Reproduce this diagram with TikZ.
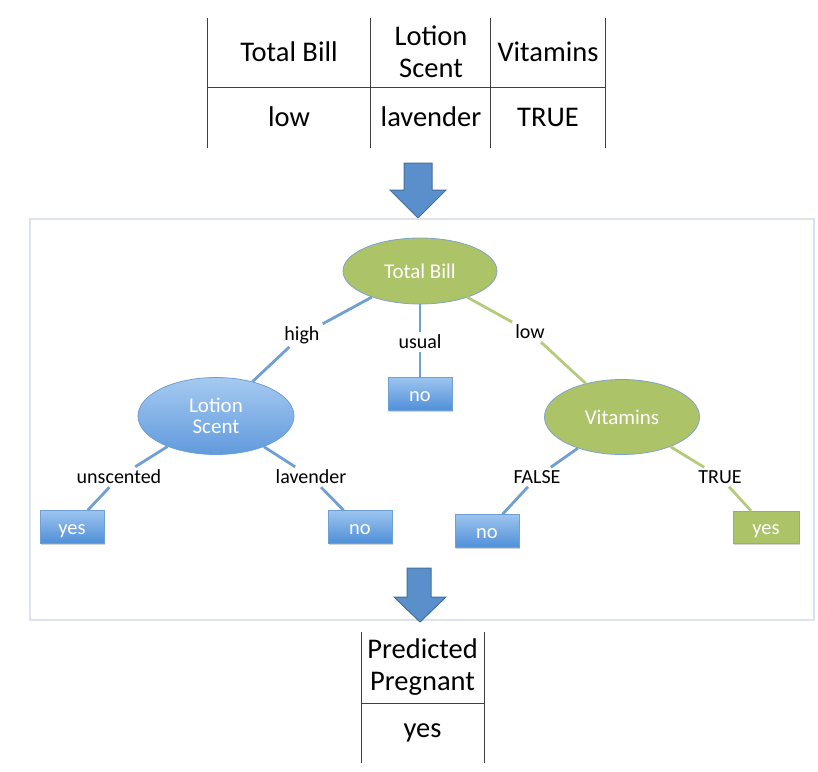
\documentclass[tikz,border=0pt]{standalone}
\usepackage{fontspec}
\setmainfont{Carlito}
\usetikzlibrary{shapes.geometric,shadows}
\definecolor{lineblue}{HTML}{6F9FD3}
\definecolor{linegreen}{HTML}{B5CB7C}
\definecolor{greenfill}{HTML}{ACC368}
\definecolor{ellborder}{HTML}{7FA3C8}
\definecolor{boxtop}{HTML}{9CC4EF}
\definecolor{boxbot}{HTML}{4F8FD8}
\definecolor{arrowfill}{HTML}{5B8FCB}
\definecolor{arrowdraw}{HTML}{41719C}
\definecolor{framecol}{HTML}{DDE3E9}
\tikzset{
  tabtxt/.style={font=\fontsize{28.5}{32}\selectfont, align=center, inner sep=0},
  lbl/.style={font=\fontsize{20}{22}\selectfont, inner sep=3pt},
  bluebox/.style={draw=lineblue, top color=boxtop, bottom color=boxbot, text=white,
     minimum width=64pt, minimum height=33pt, inner sep=0, font=\fontsize{20.5}{22}\selectfont,
     text height=15pt, text depth=0pt,
     drop shadow={shadow xshift=1pt, shadow yshift=-1.5pt, opacity=0.35}},
  greenbox/.style={draw=lineblue!60!greenfill, fill=greenfill, text=white,
     minimum width=66pt, minimum height=32pt, inner sep=0, font=\fontsize{20.5}{22}\selectfont,
     text height=15pt, text depth=0pt,
     drop shadow={shadow xshift=1pt, shadow yshift=-1.5pt, opacity=0.35}},
  greenell/.style={ellipse, draw=ellborder, line width=0.8pt, fill=greenfill, text=white,
     inner sep=0, font=\fontsize{21}{23}\selectfont, align=center},
  blueell/.style={ellipse, draw=lineblue, line width=0.8pt, top color=boxtop!90!white, bottom color=boxbot!90!white,
     text=white, inner sep=0, font=\fontsize{21}{23}\selectfont, align=center},
  bedge/.style={draw=lineblue, line width=2.8pt},
  gedge/.style={draw=linegreen, line width=2.8pt},
  tabline/.style={draw=black!75, line width=0.9pt},
  blockarrow/.style={fill=arrowfill, draw=arrowdraw, line width=1pt, line join=miter}
}
\begin{document}
\begin{tikzpicture}[x=1pt,y=-1pt]
\useasboundingbox (0,0) rectangle (818,771);

% ---- top table ----
\coordinate (t1a) at (207,18); \coordinate (t1b) at (207,148);
\coordinate (t2a) at (370,18); \coordinate (t2b) at (370,148);
\coordinate (t3a) at (490,18); \coordinate (t3b) at (490,148);
\coordinate (t4a) at (605,18); \coordinate (t4b) at (605,148);
\coordinate (h1a) at (207,87); \coordinate (h1b) at (605,87);
\draw[tabline] (t1a) -- (t1b);
\draw[tabline] (t2a) -- (t2b);
\draw[tabline] (t3a) -- (t3b);
\draw[tabline] (t4a) -- (t4b);
\draw[tabline] (h1a) -- (h1b);
\node[tabtxt] (hTB) at (289,52) {Total Bill};
\node[tabtxt] (hLS) at (431,52) {Lotion\\Scent};
\node[tabtxt] (hV) at (548,52) {Vitamins};
\node[tabtxt] (vTB) at (289,117) {low};
\node[tabtxt] (vLS) at (431,117) {lavender};
\node[tabtxt] (vV) at (548,117) {TRUE};

% ---- arrow 1 ----
\draw[blockarrow] (404,163) -- (432,163) -- (432,190) -- (446,190) -- (418,218) -- (390,190) -- (404,190) -- cycle;

% ---- frame ----
\draw[framecol, line width=1.2pt] (30,219) rectangle (814,620);
\draw[lineblue!30, line width=2pt] (814,219) -- (814,620);

% ---- tree nodes ----
\node[greenell, minimum width=154pt, minimum height=66pt] (TB) at (420,271) {Total Bill};
\node[blueell, minimum width=156pt, minimum height=77pt] (LS) at (216,416) {Lotion\\[-2pt]Scent};
\node[greenell, minimum width=155pt, minimum height=75pt] (VI) at (622,417) {Vitamins};

\node[lbl] (lhigh) at (302,335) {high};
\node[lbl] (lusual) at (420,342) {usual};
\node[lbl] (llow) at (530,332) {low};
\node[lbl] (lunsc) at (119,477) {unscented};
\node[lbl] (llav) at (311,477) {lavender};
\node[lbl] (lfalse) at (537,477) {FALSE};
\node[lbl] (ltrue) at (720,477) {TRUE};

\node[bluebox] (no1) at (420,394) {no};
\node[bluebox] (yes1) at (72,527) {yes};
\node[bluebox] (no2) at (360,527) {no};
\node[bluebox] (no3) at (487,531) {no};
\node[greenbox] (yes2) at (766,527) {yes};

% ---- connectors ----
\path[bedge] (TB) -- (lhigh);
\path[bedge] (lhigh) -- (LS);
\path[bedge] (TB) -- (lusual);
\path[bedge] (lusual) -- (no1);
\path[gedge] (TB) -- (llow);
\path[gedge] (llow) -- (VI);
\path[bedge] (LS) -- (lunsc);
\path[bedge] (lunsc) -- (yes1);
\path[bedge] (LS) -- (llav);
\path[bedge] (llav) -- (no2);
\path[bedge] (VI) -- (lfalse);
\path[bedge] (lfalse) -- (no3);
\path[gedge] (VI) -- (ltrue);
\path[gedge] (ltrue) -- (yes2);

% ---- arrow 2 ----
\draw[blockarrow] (407,568) -- (431,568) -- (431,597) -- (446,597) -- (420,622) -- (394,597) -- (407,597) -- cycle;

% ---- bottom table ----
\coordinate (b1a) at (361,632); \coordinate (b1b) at (361,763);
\coordinate (b2a) at (484,632); \coordinate (b2b) at (484,763);
\coordinate (bha) at (361,703); \coordinate (bhb) at (484,703);
\draw[tabline] (b1a) -- (b1b);
\draw[tabline] (b2a) -- (b2b);
\draw[tabline] (bha) -- (bhb);
\node[tabtxt] (hPP) at (422.5,667) {Predicted\\Pregnant};
\node[tabtxt] (vPP) at (422.5,733) {yes};
\end{tikzpicture}
\end{document}
